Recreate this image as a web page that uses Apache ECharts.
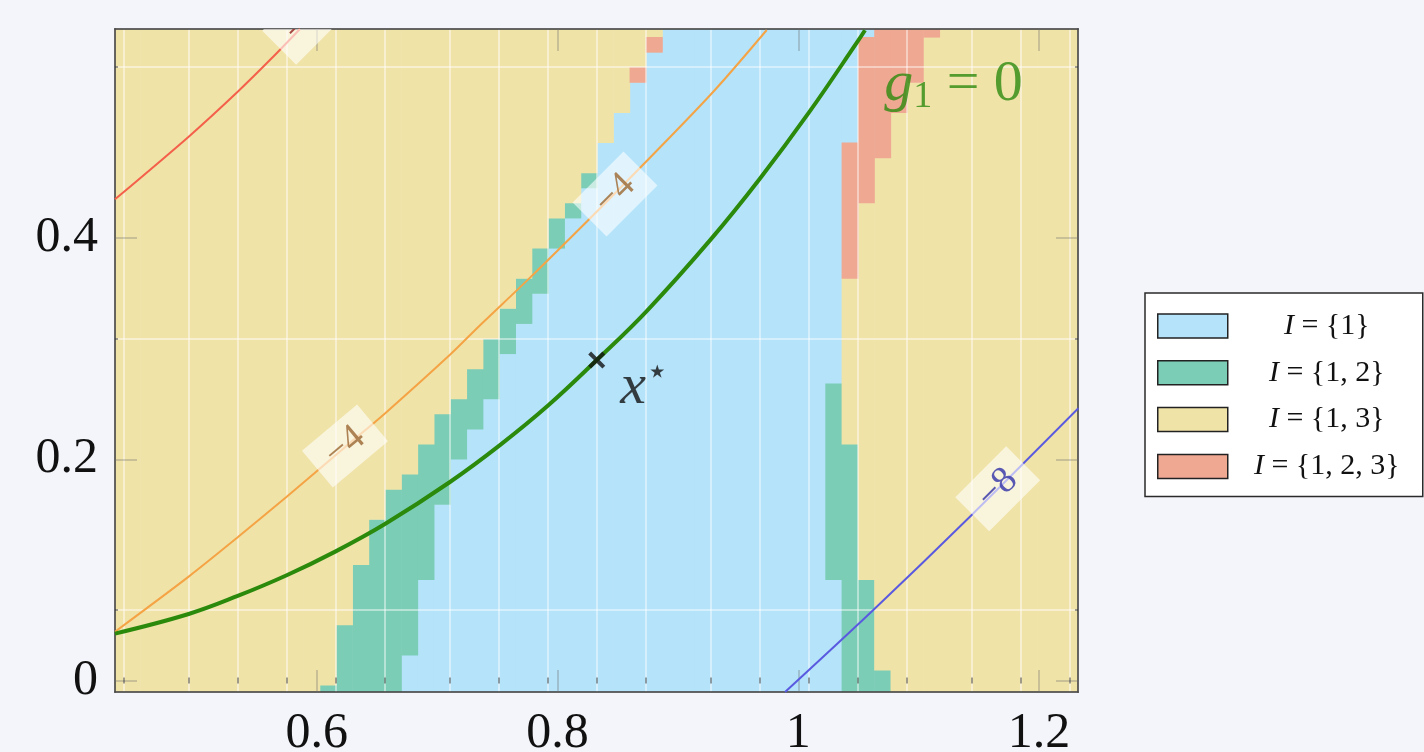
<!DOCTYPE html>
<html>
<head>
<meta charset="utf-8">
<style>
  html, body { margin: 0; padding: 0; background: #f4f5fa; }
  #chart { width: 1424px; height: 752px; }
</style>
<script src="https://cdn.jsdelivr.net/npm/echarts@6/dist/echarts.min.js"></script>
</head>
<body>
<div id="chart"></div>
<script>
// region categories (legend order)
const categories = ['I = {1}', 'I = {1, 2}', 'I = {1, 3}', 'I = {1, 2, 3}'];
const categoryColors = ['#b4e3fa', '#7bcdb6', '#f0e3a8', '#efa892'];

// sampling grid of the region map (data units)
const cellColumns = 60;
const cellRows = 45;
const cellX0 = 0.4264, cellW = 0.013546;
const cellY0 = -0.0176, cellH = 0.01362;

// runs of cells: [column, firstRow, lastRow]
const runsI1 = [
  [18, 0, 2], [19, 0, 7], [20, 0, 12], [21, 0, 15], [22, 0, 17], [23, 0, 19],
  [24, 0, 22], [25, 0, 24], [26, 0, 26], [27, 0, 29], [28, 0, 31], [29, 0, 33],
  [30, 0, 36], [31, 0, 38], [32, 0, 40], [33, 0, 42], [34, 0, 44], [35, 0, 44],
  [36, 0, 44], [37, 0, 44], [38, 0, 44], [39, 0, 44], [40, 0, 44], [41, 0, 44],
  [42, 0, 44], [43, 0, 44], [44, 0, 7], [44, 21, 44], [45, 37, 44], [46, 44, 44]
];
const runsI12 = [
  [13, 0, 0], [14, 0, 4], [15, 0, 8], [16, 0, 11], [17, 0, 13], [18, 3, 14],
  [19, 8, 16], [20, 13, 18], [21, 16, 19], [22, 18, 21], [23, 20, 23], [24, 23, 25],
  [25, 25, 27], [26, 27, 29], [27, 30, 31], [28, 32, 32], [29, 34, 34],
  [44, 8, 20], [45, 0, 16], [46, 0, 7], [47, 0, 1]
];
const runsI123 = [
  [32, 41, 41], [33, 43, 43], [45, 28, 36], [46, 33, 43], [47, 36, 44],
  [48, 39, 44], [49, 41, 44], [50, 44, 44]
];
// every other cell is I = {1, 3}

// curves
const g1X = [0.4325, 0.4937, 0.5344, 0.5751, 0.6158, 0.6567, 0.7107, 0.7522, 0.7924, 0.8326, 0.8741, 0.9275, 0.9682, 1.0089, 1.0493, 1.0554];
const g1Y = [0.0425, 0.0602, 0.0765, 0.0952, 0.1168, 0.1415, 0.1795, 0.2128, 0.2488, 0.2897, 0.3340, 0.3990, 0.4538, 0.5135, 0.5777, 0.5878];
const orangeX = [0.4325, 0.4937, 0.5344, 0.5751, 0.6235, 0.6567, 0.7107, 0.7357, 0.7772, 0.8478, 0.9267, 0.9738];
const orangeY = [0.0442, 0.0940, 0.1295, 0.1662, 0.2110, 0.2415, 0.2945, 0.3212, 0.3642, 0.4405, 0.5290, 0.5880];
const redX = [0.4325, 0.4937, 0.5344, 0.5626, 0.5861];
const redY = [0.4350, 0.4916, 0.5322, 0.5624, 0.5889];
const blueX = [0.9890, 1.0623, 1.1440, 1.2326];
const blueY = [-0.0103, 0.0638, 0.1497, 0.2461];

// contour labels
const contourLabelX = [0.6235, 0.8478, 0.5900, 1.1656];
const contourLabelY = [0.2120, 0.4398, 0.5950, 0.1734];
const contourLabelText = ['\u22124', '\u22124', '\u22128', '\u22128'];
const contourLabelAngle = [40, 45, 45, 45];
const contourLabelColor = ['rgba(160,110,60,0.85)', 'rgba(160,110,60,0.85)', 'rgba(150,40,40,0.85)', 'rgba(60,60,170,0.85)'];

// optimum point
const xStar = [0.8326, 0.2897];

// axes
const xMin = 0.4325, xMax = 1.2323;
const yMin = -0.0103, yMax = 0.5889;
const xTicks = [0.6, 0.8, 1, 1.2];
const yTicks = [0, 0.2, 0.4];
const gridCols = [1, 5, 8, 11, 14, 17, 21, 24, 27, 30, 33, 37, 40, 43, 46, 49, 53, 56, 59];
const gridRows = [6, 24, 42];

const serif = '"Liberation Serif", "DejaVu Serif", serif';

// category map: column -> row -> category index (default I = {1, 3})
const cellMap = [];
for (let c = 0; c < cellColumns; c++) {
  cellMap.push(new Array(cellRows).fill(2));
}
[[runsI1, 0], [runsI12, 1], [runsI123, 3]].forEach(function (pair) {
  pair[0].forEach(function (run) {
    for (let r = run[1]; r <= run[2]; r++) cellMap[run[0]][r] = pair[1];
  });
});

// merge vertical runs per category into rectangles [x0, x1, y0, y1]
const cellRects = categories.map(function () { return []; });
for (let c = 0; c < cellColumns; c++) {
  let start = 0;
  for (let r = 1; r <= cellRows; r++) {
    if (r === cellRows || cellMap[c][r] !== cellMap[c][start]) {
      cellRects[cellMap[c][start]].push([
        cellX0 + c * cellW, cellX0 + (c + 1) * cellW,
        cellY0 + start * cellH, cellY0 + r * cellH
      ]);
      start = r;
    }
  }
}

function renderCell(params, api) {
  const p0 = api.coord([api.value(0), api.value(3)]);
  const p1 = api.coord([api.value(1), api.value(2)]);
  return {
    type: 'rect',
    shape: { x: p0[0], y: p0[1], width: p1[0] - p0[0] + 0.6, height: p1[1] - p0[1] + 0.6 },
    style: { fill: api.visual('color') }
  };
}

function zip(xs, ys) {
  return xs.map(function (x, i) { return [x, ys[i]]; });
}

// legend text centred in a fixed box
const measureCtx = document.createElement('canvas').getContext('2d');
function textWidth(font, s) {
  measureCtx.font = font;
  return measureCtx.measureText(s).width;
}
const legendFontSize = 30;
const legendTextBox = 188;
const legendRich = {
  i: { fontFamily: serif, fontStyle: 'italic', fontSize: legendFontSize, lineHeight: 24 }
};
categories.forEach(function (name, i) {
  const w = textWidth('italic ' + legendFontSize + 'px ' + serif, 'I') +
    textWidth(legendFontSize + 'px ' + serif, name.slice(1));
  const pad = Math.max(1, (legendTextBox - w) / 2);
  legendRich['a' + i] = { width: pad, lineHeight: 24 };
  legendRich['b' + i] = { width: pad, lineHeight: 24 };
});

const frameLine = { show: true, onZero: false, lineStyle: { color: 'rgba(75,75,75,0.85)', width: 2 } };
const grayTickStyle = { color: 'rgba(110,110,110,0.3)', width: 2 };
const darkTickStyle = { color: 'rgba(50,50,50,0.6)', width: 1.5 };
const whiteSplit = { show: true, lineStyle: { color: 'rgba(255,255,255,0.6)', width: 1.5 } };
const gridX = gridCols.map(function (c) { return cellX0 + c * cellW; });
const gridY = gridRows.map(function (r) { return cellY0 + r * cellH; });

function xAxisDef(position, extra) {
  return Object.assign({
    type: 'value', position: position, min: xMin, max: xMax, z: 4,
    axisLine: { show: false }, axisLabel: { show: false },
    axisTick: { show: false }, splitLine: { show: false }
  }, extra);
}
function yAxisDef(position, extra) {
  return Object.assign({
    type: 'value', position: position, min: yMin, max: yMax, z: 4,
    axisLine: { show: false }, axisLabel: { show: false },
    axisTick: { show: false }, splitLine: { show: false }
  }, extra);
}

const chart = echarts.init(document.getElementById('chart'), null, { renderer: 'canvas' });

const cellSeries = categories.map(function (name, i) {
  return {
    type: 'custom',
    name: name,
    renderItem: renderCell,
    data: cellRects[i],
    encode: { x: [0, 1], y: [2, 3] },
    itemStyle: { color: categoryColors[i] },
    clip: true,
    silent: true,
    z: 1
  };
});

const option = {
  backgroundColor: '#f4f5fa',
  animation: false,
  textStyle: { fontFamily: serif },
  grid: { left: 115, top: 29, width: 963, height: 663, containLabel: false, outerBoundsMode: 'none' },
  legend: {
    data: categories,
    orient: 'vertical',
    left: 1145,
    top: 293,
    padding: [18, 2, 15, 12],
    itemWidth: 70,
    itemHeight: 24,
    itemGap: 16.8,
    icon: 'rect',
    backgroundColor: '#ffffff',
    borderColor: '#2a2a2a',
    borderWidth: 1.5,
    borderRadius: 0,
    selectedMode: false,
    itemStyle: { borderColor: '#222', borderWidth: 1.5 },
    textStyle: { fontFamily: serif, fontSize: legendFontSize, color: '#111', lineHeight: 24, rich: legendRich },
    formatter: function (name) {
      const i = categories.indexOf(name);
      return '{a' + i + '| }{i|I}' + name.slice(1) + '{b' + i + '| }';
    }
  },
  xAxis: [
    xAxisDef('bottom', {
      axisLine: frameLine,
      axisTick: { show: true, inside: true, length: 22, customValues: xTicks, lineStyle: grayTickStyle },
      axisLabel: { show: true, customValues: xTicks, fontFamily: serif, fontSize: 50, color: '#111', margin: 17 }
    }),
    xAxisDef('top', {
      axisLine: frameLine,
      axisTick: { show: true, inside: true, length: 22, customValues: xTicks, lineStyle: grayTickStyle }
    }),
    xAxisDef('bottom', {
      axisTick: { show: true, inside: true, length: 3, customValues: gridX, lineStyle: darkTickStyle },
      splitLine: whiteSplit
    }),
    xAxisDef('top', {
      axisTick: { show: true, inside: true, length: 3, customValues: gridX, lineStyle: darkTickStyle }
    })
  ],
  yAxis: [
    yAxisDef('left', {
      axisLine: frameLine,
      axisTick: { show: true, inside: true, length: 22, customValues: yTicks, lineStyle: grayTickStyle },
      axisLabel: { show: true, customValues: yTicks, fontFamily: serif, fontSize: 50, color: '#111', margin: 17 }
    }),
    yAxisDef('right', {
      axisLine: frameLine,
      axisTick: { show: true, inside: true, length: 22, customValues: yTicks, lineStyle: grayTickStyle }
    }),
    yAxisDef('left', {
      axisTick: { show: true, inside: true, length: 3, customValues: gridY, lineStyle: darkTickStyle },
      splitLine: whiteSplit
    }),
    yAxisDef('right', {
      axisTick: { show: true, inside: true, length: 3, customValues: gridY, lineStyle: darkTickStyle }
    })
  ],
  series: cellSeries.concat([
    {
      type: 'line', name: 'red contour', data: zip(redX, redY), smooth: 0.3,
      symbol: 'none', clip: true, silent: true, z: 6,
      lineStyle: { color: '#f4604a', width: 2 }
    },
    {
      type: 'line', name: 'orange contour', data: zip(orangeX, orangeY), smooth: 0.3,
      symbol: 'none', clip: true, silent: true, z: 6,
      lineStyle: { color: '#f5a445', width: 2 }
    },
    {
      type: 'line', name: 'blue contour', data: zip(blueX, blueY), smooth: 0.3,
      symbol: 'none', clip: true, silent: true, z: 6,
      lineStyle: { color: '#5a5ae0', width: 2 }
    },
    {
      type: 'line', name: 'g1 = 0', data: zip(g1X, g1Y), smooth: 0.4,
      symbol: 'none', clip: true, silent: true, z: 7,
      lineStyle: { color: '#2b8a0c', width: 4 }
    },
    {
      type: 'custom', name: 'contour labels', clip: true, silent: true, z: 8,
      data: contourLabelX.map(function (x, i) { return [x, contourLabelY[i], i]; }),
      encode: { x: 0, y: 1 },
      renderItem: function (params, api) {
        const i = api.value(2);
        const p = api.coord([api.value(0), api.value(1)]);
        return {
          type: 'group',
          x: p[0], y: p[1],
          rotation: contourLabelAngle[i] * Math.PI / 180,
          children: [
            { type: 'rect', shape: { x: -36, y: -24, width: 72, height: 48 }, style: { fill: 'rgba(255,255,255,0.6)' } },
            { type: 'text', style: { text: contourLabelText[i], x: 0, y: 0, align: 'center', verticalAlign: 'middle', font: '38px ' + serif, fill: contourLabelColor[i] } }
          ]
        };
      }
    },
    {
      type: 'scatter', name: 'x star', data: [xStar], z: 9, silent: true,
      symbol: 'path://M3,0 L9,6 L15,0 L18,3 L12,9 L18,15 L15,18 L9,12 L3,18 L0,15 L6,9 L0,3 Z',
      symbolSize: 17,
      itemStyle: { color: '#111' },
      label: {
        show: true, position: [32, 4], align: 'left', verticalAlign: 'top',
        formatter: '{x|x}{s|\u22c6}',
        rich: {
          x: { fontFamily: serif, fontStyle: 'italic', fontSize: 58, color: '#111', lineHeight: 64, verticalAlign: 'middle' },
          s: { fontFamily: '"DejaVu Sans", sans-serif', fontSize: 36, color: '#111', lineHeight: 34, verticalAlign: 'top' }
        }
      }
    },
    {
      type: 'scatter', name: 'g1 label', data: [[1.0713, 0.5383]], z: 9, silent: true,
      symbolSize: 0,
      label: {
        show: true, position: 'inside', align: 'left', verticalAlign: 'middle',
        formatter: '{g|g}{n|1}{t| = 0}',
        rich: {
          g: { fontFamily: serif, fontStyle: 'italic', fontSize: 58, color: '#2d8a0e', lineHeight: 60, verticalAlign: 'middle' },
          n: { fontFamily: serif, fontSize: 38, color: '#2d8a0e', lineHeight: 62, verticalAlign: 'bottom' },
          t: { fontFamily: serif, fontSize: 58, color: '#2d8a0e', lineHeight: 60, verticalAlign: 'middle' }
        }
      }
    }
  ])
};

chart.setOption(option);
</script>
</body>
</html>
